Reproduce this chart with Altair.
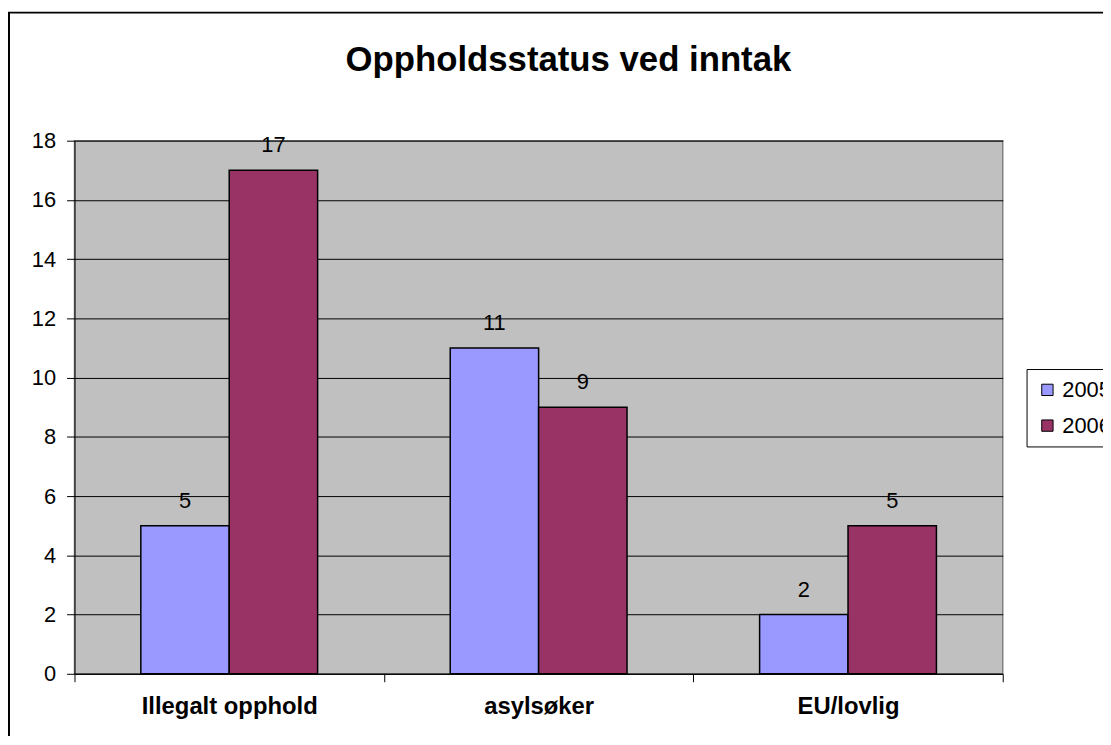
import altair as alt
import pandas as pd

categories = ["Illegalt opphold", "asylsøker", "EU/lovlig"]
years = ["2005", "2006"]
values_2005 = [5, 11, 2]
values_2006 = [17, 9, 5]
colors = ["#9999FF", "#993366"]
y_ticks = list(range(0, 19, 2))

rows = []
for c, v5, v6 in zip(categories, values_2005, values_2006):
    rows.append({"kategori": c, "år": "2005", "antall": v5})
    rows.append({"kategori": c, "år": "2006", "antall": v6})
df = pd.DataFrame(rows)

FONT = "Liberation Sans"

x_enc = alt.X(
    "kategori:N",
    sort=categories,
    scale=alt.Scale(paddingInner=0, paddingOuter=0),
    axis=alt.Axis(
        title=None, labelAngle=0, tickBand="extent", tickSize=8,
        tickColor="black", domainColor="black", labelFontSize=24,
        labelFontWeight="bold", labelFont=FONT, labelColor="black",
        labelPadding=13, grid=False,
    ),
)
xo_enc = alt.XOffset("år:N", sort=years, scale=alt.Scale(paddingOuter=0.75, paddingInner=0))
y_enc = alt.Y(
    "antall:Q",
    scale=alt.Scale(domain=[0, 18], nice=False),
    axis=alt.Axis(
        title=None, values=y_ticks, tickSize=8, tickColor="black",
        domainColor="black", labelFontSize=22, labelFont=FONT,
        labelColor="black", labelPadding=11, grid=True,
        gridColor="black", gridWidth=1, gridOpacity=1,
    ),
)

bars = alt.Chart(df).mark_bar(stroke="black", strokeWidth=1.5).encode(
    x=x_enc,
    xOffset=xo_enc,
    y=y_enc,
    color=alt.Color(
        "år:N", sort=years,
        scale=alt.Scale(domain=years, range=colors),
        legend=alt.Legend(
            title=None, orient="none", legendX=959, legendY=230,
            fillColor="white", strokeColor="black", padding=10,
            symbolType="square", symbolSize=130, symbolStrokeColor="black",
            symbolStrokeWidth=1, symbolOpacity=1, labelFontSize=22, labelFont=FONT,
            labelColor="black", rowPadding=14,
        ),
    ),
)

labels = alt.Chart(df).mark_text(
    dy=-25, baseline="middle", fontSize=22, font=FONT, color="black"
).encode(
    x=alt.X("kategori:N", sort=categories),
    xOffset=alt.XOffset("år:N", sort=years),
    y="antall:Q",
    text="antall:Q",
)

frame = alt.Chart(pd.DataFrame({"f": [0]})).mark_rect(
    fill=None, stroke="black", strokeWidth=2
).encode(
    x=alt.value(-66), x2=alt.value(1300), y=alt.value(-129), y2=alt.value(800)
)

chart = alt.layer(bars, labels, frame).properties(
    width=935,
    height=537,
    title=alt.TitleParams(
        "Oppholdsstatus ved inntak", fontSize=35, fontWeight="bold",
        font=FONT, color="black", anchor="middle", offset=0,
        baseline="alphabetic", dy=95, dx=30,
    ),
    autosize=alt.AutoSizeParams(type="none"),
    padding={"left": 67, "top": 131, "right": 101, "bottom": 60},
    background="white",
).configure_view(
    fill="#C0C0C0", stroke="#808080", strokeWidth=1.5
)

chart.save("out.html", embed_options={"renderer": "svg", "actions": False})
